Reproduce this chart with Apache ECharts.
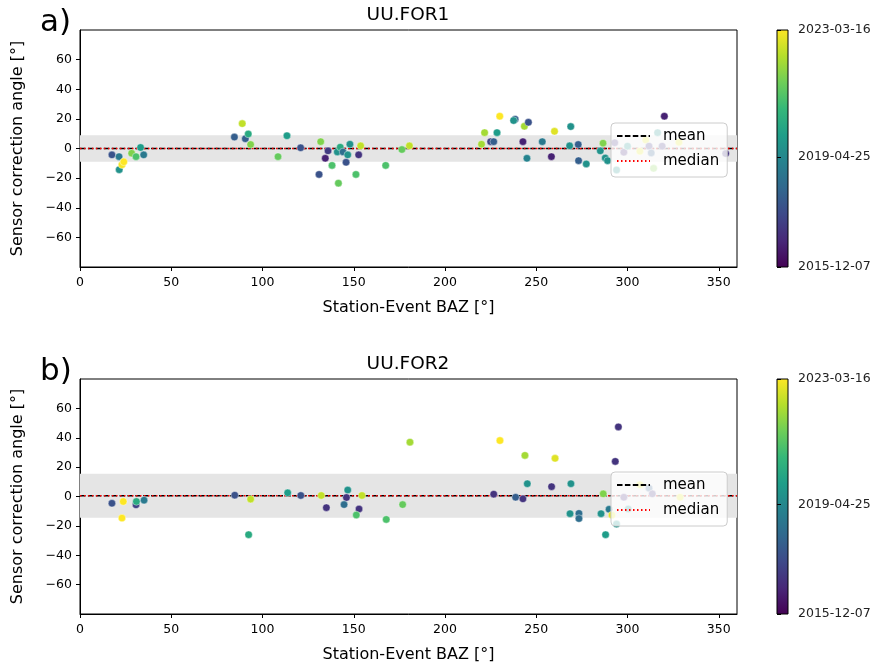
<!DOCTYPE html>
<html lang="en">
<head>
    <meta charset="utf-8" />
    <title>Sensor correction angle</title>
    <script src="https://cdn.jsdelivr.net/npm/echarts@6/dist/echarts.min.js"></script>
    <style>
        html, body, #main {
            width: 100%;
            height: 100%;
            padding: 0;
            margin: 0;
            background: #fff;
        }
    </style>
</head>
<body>
<div id="main"></div>
<script>
    // ---- data ----
    var stations = ['UU.FOR1', 'UU.FOR2'];
    var panelTags = ['a)', 'b)'];
    var dateStart = '2015-12-07', dateMid = '2019-04-25', dateEnd = '2023-03-16';

    // UU.FOR1
    var baz1 = [17.5, 21.4, 21.5, 23, 24, 28.3, 30.7, 33.2, 34.9, 84.6, 88.9, 90.6, 92.2, 93.5, 108.5, 113.4,
        120.9, 131.9, 135.9, 134.4, 131, 138.1, 141.6, 141, 142.6, 144.1, 146.7, 147.9, 145.8, 153.8, 152.7,
        151.2, 167.5, 176.4, 180.5, 230, 238.4, 237.6, 221.7, 228.5, 220, 225, 226.7, 243.5, 245.7, 242.7,
        244.9, 260, 253.3, 258.3, 268.9, 268.3, 273, 273.2, 277.4, 286.6, 285.1, 287.8, 289.1, 320.2,
        293, 294, 298, 300, 306.8, 310, 311.8, 313, 314.3, 316.5, 319, 328.2, 353.8];
    var angle1 = [-4.3, -5.5, -14.3, -11, -9, -3.2, -5.5, 0.7, -4.3, 7.7, 16.8, 6.6, 9.8, 2.7, -5.5, 8.6,
        0.5, 4.6, -1.6, -6.6, -17.5, -11.4, -23.4, -2.3, 0.9, -2.3, -4.3, 2.9, -9.3, 1.8, -4.3,
        -17.5, -11.4, -0.7, 1.8, 21.8, 19.8, 18.9, 10.7, 10.7, 2.9, 4.6, 4.6, 15, 17.7, 4.6,
        -6.6, 11.6, 4.6, -5.5, 14.8, 1.8, 2.7, -8.2, -10.4, 3.6, -1.6, -6.4, -8.2, 21.8,
        3.9, -14.5, -2.5, 1.6, -1.8, 5.7, 1.6, -3, -13.4, 10.7, 1.6, 4.3, -3.4];
    var date1 = ['2017-10', '2018-11', '2019-08', '2023-02', '2023-03', '2021-10', '2021-02', '2019-12', '2018-11',
        '2018-02', '2022-07', '2018-02', '2020-05', '2021-10', '2021-06', '2019-12',
        '2017-10', '2021-10', '2017-03', '2016-08', '2017-10', '2021-02', '2021-06', '2019-08', '2020-05',
        '2018-07', '2019-08', '2019-08', '2017-10', '2022-07', '2017-01',
        '2021-02', '2021-02', '2021-06', '2022-07', '2023-03', '2018-02', '2019-08', '2022-03', '2019-12',
        '2022-03', '2017-05', '2018-02', '2022-03', '2017-10', '2016-08',
        '2019-03', '2022-11', '2018-11', '2016-08', '2019-08', '2019-08', '2018-02', '2018-02', '2019-08',
        '2021-10', '2019-08', '2019-08', '2019-08', '2016-08',
        '2017-01', '2019-08', '2016-10', '2019-08', '2022-11', '2022-11', '2017-03', '2018-02', '2021-10',
        '2019-08', '2017-01', '2022-11', '2017-01'];

    // UU.FOR2
    var baz2 = [17.5, 23.7, 23, 30.7, 30.9, 35.1, 84.8, 93.5, 92.4, 113.8, 121, 132.2, 135, 146.7, 146,
        144.7, 152.9, 151.4, 154.5, 167.8, 176.8, 180.8, 230.1, 226.7, 238.7, 243.8, 242.7, 245.1,
        260.3, 258.4, 269, 268.5, 273.4, 273.4, 285.5, 286.7, 288, 289.9, 295, 293.3,
        291.5, 294, 298, 300.4, 306.8, 311.8, 313.6, 328.8];
    var angle2 = [-4.6, -3.4, -14.7, -5.7, -3.4, -2.5, 0.9, -1.8, -26, 2.5, 0.7, 0.7, -7.6, 4.4, -0.7,
        -5.5, -8.5, -12.6, 0.7, -15.6, -5.5, 37, 38.1, 1.6, -0.5, 28, -1.6, 8.7,
        26, 6.7, 8.7, -11.7, -11.5, -15, -11.7, 1.8, -26, -8.7, 47.4, 23.9,
        -12.6, -18.8, -0.5, -8.5, 8, 5.7, 1.8, -0.5];
    var date2 = ['2017-10', '2023-03', '2023-03', '2017-05', '2020-05', '2018-11', '2017-10', '2022-07', '2020-05',
        '2019-12', '2017-10', '2022-07', '2017-01', '2019-08', '2017-01',
        '2018-07', '2017-01', '2021-02', '2022-07', '2021-02', '2021-06', '2022-03', '2023-03', '2017-01',
        '2018-02', '2022-03', '2017-01', '2019-08',
        '2022-11', '2017-01', '2019-08', '2019-08', '2018-07', '2018-07', '2019-08', '2021-10', '2019-12',
        '2018-11', '2017-01', '2017-01',
        '2022-11', '2019-08', '2016-10', '2019-08', '2022-11', '2018-02', '2017-01', '2022-11'];

    // mean, median and +/- std band
    var meanVal = [0, 0.5];
    var medianVal = [0, 0.5];
    var bandLow = [-9, -14.5];
    var bandHigh = [9, 15.5];

    var viridis = ['#440154', '#482878', '#3e4989', '#31688e', '#26828e', '#1f9e89', '#35b779', '#6ece58', '#b5de2b', '#fde725'];

    // ---- build ----
    var t0 = Date.parse(dateStart), tm = Date.parse(dateMid), t1 = Date.parse(dateEnd);
    function pts(baz, ang, dt) {
        return baz.map(function (b, i) { return [b, ang[i], Date.parse(dt[i] + '-15')]; });
    }
    var panels = [pts(baz1, angle1, date1), pts(baz2, angle2, date2)];
    var layout = [{ top: 30, height: 237 }, { top: 379, height: 235 }];
    var font = 'DejaVu Sans';

    function fmtDate(v) {
        var d = new Date(v);
        var m = d.getUTCMonth() + 1, dd = d.getUTCDate();
        return d.getUTCFullYear() + '-' + (m < 10 ? '0' : '') + m + '-' + (dd < 10 ? '0' : '') + dd;
    }
    function fmtNum(v) {
        return String(v).replace('-', '\u2212');
    }

    var grid = [], xAxis = [], yAxis = [], series = [], title = [], legend = [], visualMap = [];
    var gradStops = viridis.slice().reverse().map(function (c, i) {
        return { offset: i / (viridis.length - 1), color: c };
    });

    layout.forEach(function (L, p) {
        // main plot
        grid.push({ left: 80, width: 657, top: L.top, height: L.height, show: true, borderColor: '#000', borderWidth: 1 });
        xAxis.push({
            gridIndex: 2 * p, type: 'value', min: 0, max: 360, interval: 50,
            name: 'Station-Event BAZ [°]', nameLocation: 'middle', nameGap: 33,
            nameTextStyle: { fontFamily: font, fontSize: 16, color: '#000' },
            axisLine: { onZero: false, lineStyle: { color: '#000' } },
            axisTick: { length: 4, lineStyle: { color: '#000' } },
            axisLabel: { fontFamily: font, fontSize: 12.5, color: '#000', margin: 9, showMaxLabel: false },
            splitLine: { show: false }
        });
        yAxis.push({
            gridIndex: 2 * p, type: 'value', min: -80, max: 80, interval: 20,
            name: 'Sensor correction angle [°]', nameLocation: 'middle', nameGap: 54, nameRotate: 90,
            nameTextStyle: { fontFamily: font, fontSize: 16, color: '#000' },
            axisLine: { show: true, lineStyle: { color: '#000' } },
            axisTick: { show: true, length: 4, lineStyle: { color: '#000' } },
            axisLabel: { fontFamily: font, fontSize: 12.5, color: '#000', margin: 8, showMinLabel: false, showMaxLabel: false, formatter: fmtNum },
            splitLine: { show: false }
        });

        // colorbar
        grid.push({
            left: 777, width: 11, top: L.top, height: L.height, show: true, borderColor: '#000', borderWidth: 1,
            backgroundColor: new echarts.graphic.LinearGradient(0, 0, 0, 1, gradStops)
        });
        xAxis.push({ gridIndex: 2 * p + 1, type: 'value', min: 0, max: 1, show: false });
        yAxis.push({
            gridIndex: 2 * p + 1, type: 'value', min: t0, max: t1, position: 'right',
            axisLine: { show: false },
            axisTick: { show: true, length: 4, customValues: [t0, tm, t1], lineStyle: { color: '#000' } },
            axisLabel: { fontFamily: font, fontSize: 12.5, color: '#222', margin: 10, customValues: [t0, tm, t1], formatter: fmtDate },
            splitLine: { show: false }
        });
        series.push({ type: 'scatter', xAxisIndex: 2 * p + 1, yAxisIndex: 2 * p + 1, data: [], silent: true });

        // std band
        series.push({
            type: 'line', name: 'band', xAxisIndex: 2 * p, yAxisIndex: 2 * p, z: 1, silent: true,
            data: [[0, meanVal[p]]], symbol: 'none', lineStyle: { opacity: 0 },
            markArea: {
                silent: true,
                itemStyle: { color: '#e5e5e5' },
                data: [[{ xAxis: 0, yAxis: bandLow[p] }, { xAxis: 360, yAxis: bandHigh[p] }]]
            }
        });
        series.push({
            type: 'line', name: 'mean', xAxisIndex: 2 * p, yAxisIndex: 2 * p, z: 2, symbol: 'none',
            data: [[0, meanVal[p]], [360, meanVal[p]]],
            lineStyle: { color: '#000', width: 1.6, type: [5.5, 2.4] }, itemStyle: { color: '#000' }
        });
        series.push({
            type: 'line', name: 'median', xAxisIndex: 2 * p, yAxisIndex: 2 * p, z: 3, symbol: 'none',
            data: [[0, medianVal[p]], [360, medianVal[p]]],
            lineStyle: { color: '#ff0000', width: 1.6, type: [1.5, 2.5] }, itemStyle: { color: '#ff0000' }
        });
        series.push({
            type: 'scatter', name: 'pts' + p, xAxisIndex: 2 * p, yAxisIndex: 2 * p, z: 4,
            data: panels[p], symbolSize: 7.5,
            itemStyle: { borderColor: '#fff', borderWidth: 0.4, opacity: 1 }
        });
        visualMap.push({
            show: false, type: 'continuous', dimension: 2, min: t0, max: t1,
            seriesIndex: series.length - 1, inRange: { color: viridis }
        });

        title.push({
            text: stations[p], left: 408, top: L.top - 24, textAlign: 'center', padding: 0,
            textStyle: { fontFamily: font, fontSize: 18.5, fontWeight: 'normal', color: '#000' }
        });
        title.push({
            text: panelTags[p], left: 40, top: L.top - 23, padding: 0,
            textStyle: { fontFamily: font, fontSize: 31, fontWeight: 'normal', color: '#000' }
        });
        legend.push({
            data: ['mean', 'median'], orient: 'vertical', left: 611, top: L.top + 93,
            itemWidth: 33, itemHeight: 16, itemGap: 9, padding: [5, 8, 8, 5],
            itemStyle: { opacity: 0 },
            backgroundColor: 'rgba(255,255,255,0.8)', borderColor: '#cccccc', borderWidth: 1, borderRadius: 4,
            textStyle: { fontFamily: font, fontSize: 15, color: '#000', lineHeight: 16, padding: [0, 0, 0, 8] },
            selectedMode: false, z: 10
        });
    });

    var myChart = echarts.init(document.getElementById('main'));
    myChart.setOption({
        animation: false,
        backgroundColor: '#fff',
        title: title,
        legend: legend,
        grid: grid,
        xAxis: xAxis,
        yAxis: yAxis,
        visualMap: visualMap,
        series: series
    });
</script>
</body>
</html>
